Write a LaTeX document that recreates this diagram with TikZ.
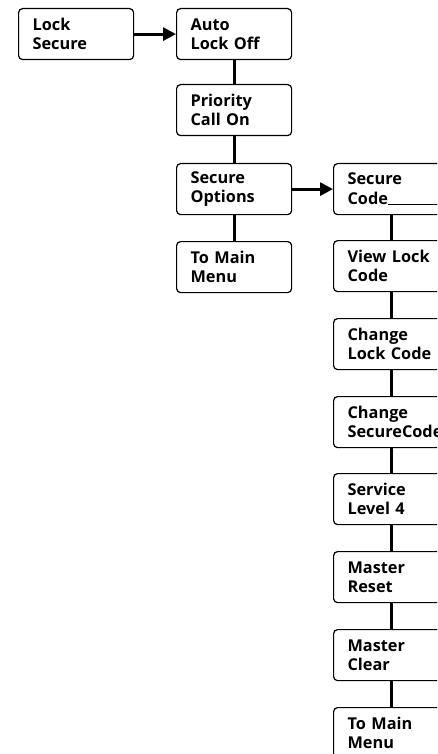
\documentclass[tikz,border=0pt]{standalone}
\usepackage{fontspec}
\setmainfont{Open Sans}
\usetikzlibrary{arrows.meta}
\begin{document}
\begin{tikzpicture}[x=1pt,y=-1pt,
 box/.style={draw, line width=1.2pt, rounded corners=4pt, minimum width=115pt, minimum height=51pt,
   text width=87pt, align=left, inner sep=0pt, anchor=north west,
   font=\fontsize{16.3}{19.5}\selectfont\bfseries},
 link/.style={line width=3pt},
 arr/.style={line width=3pt, -{Triangle[length=13pt,width=13pt]}}]
\useasboundingbox (0,0) rectangle (437,754);
\clip (0,0) rectangle (437,754);
\node[box] (ls) at (18,8) {Lock\\Secure};
\node[box] (alo) at (176,8) {Auto\\Lock Off};
\node[box] (pco) at (176,84) {Priority\\Call On};
\node[box] (so) at (176,163) {Secure\\Options};
\node[box] (tmm) at (176,241) {To Main\\Menu};
\node[box] (sc) at (333,163) {Secure\\Code\rule[-1pt]{80pt}{0.8pt}};
\node[box] (vlc) at (333,240) {View Lock\\Code};
\node[box] (clc) at (333,318) {Change\\Lock Code};
\node[box] (csc) at (333,396) {Change\\SecureCode};
\node[box] (sl4) at (333,473) {Service\\Level 4};
\node[box] (mr) at (333,551) {Master\\Reset};
\node[box] (mc) at (333,629) {Master\\Clear};
\node[box] (tmm2) at (333,707) {To Main\\Menu};
\draw[arr] (ls.east) -- (alo.west);
\draw[arr] (so.east) -- (sc.west);
\draw[link] (alo.south) -- (pco.north);
\draw[link] (pco.south) -- (so.north);
\draw[link] (so.south) -- (tmm.north);
\draw[link] (sc.south) -- (vlc.north);
\draw[link] (vlc.south) -- (clc.north);
\draw[link] (clc.south) -- (csc.north);
\draw[link] (csc.south) -- (sl4.north);
\draw[link] (sl4.south) -- (mr.north);
\draw[link] (mr.south) -- (mc.north);
\draw[link] (mc.south) -- (tmm2.north);
\end{tikzpicture}
\end{document}
